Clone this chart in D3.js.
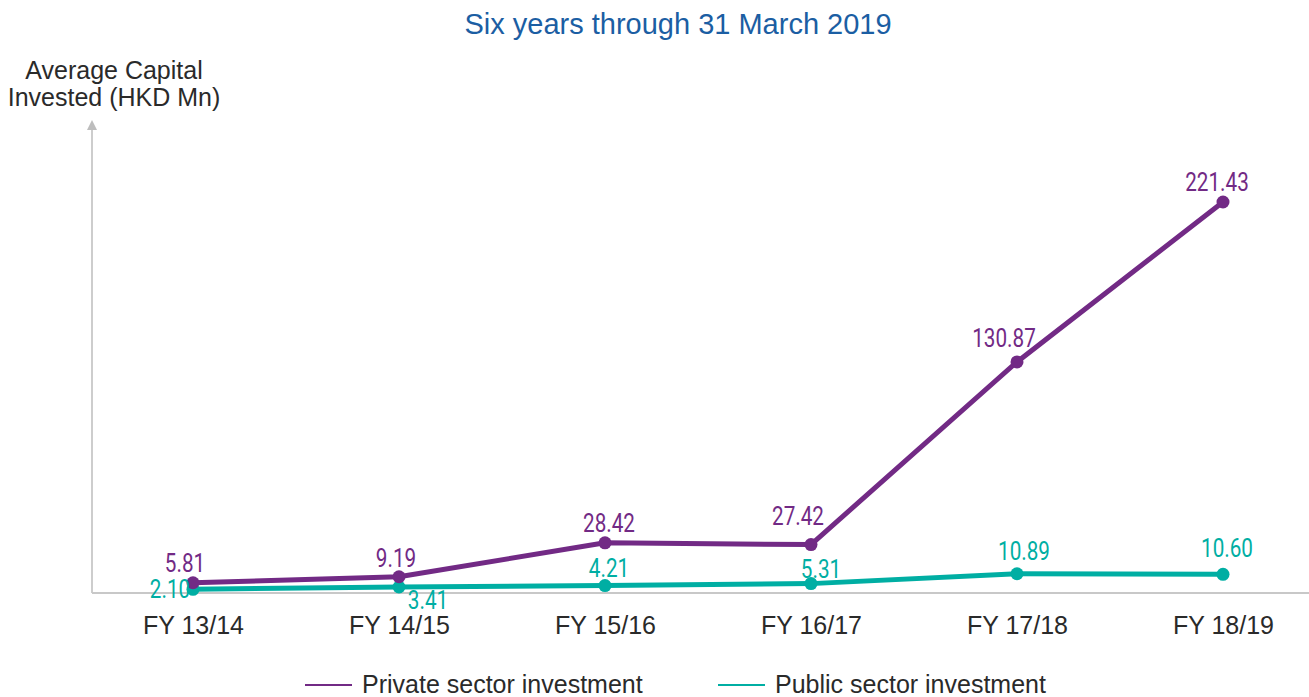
<!DOCTYPE html>
<html>
<head>
<meta charset="utf-8">
<script src="https://cdn.jsdelivr.net/npm/d3@7"></script>
<style>
  html, body { margin: 0; padding: 0; background: #fff; }
  svg { display: block; }
</style>
</head>
<body>
<svg id="chart" width="1309" height="697"></svg>
<script>
// Fiscal years and average capital invested (HKD Mn)
const years = ["FY 13/14", "FY 14/15", "FY 15/16", "FY 16/17", "FY 17/18", "FY 18/19"];
const privateValues = [5.81, 9.19, 28.42, 27.42, 130.87, 221.43];
const publicValues = [2.10, 3.41, 4.21, 5.31, 10.89, 10.60];
const seriesNames = ["Private sector investment", "Public sector investment"];
const seriesColors = ["#722a85", "#00aea3"];

// label offsets (dx, dy) of each value label's baseline centre from its point
const privateLabelOffsets = [[-8, -11], [-3, -10], [4, -11], [-13, -20], [-13, -15], [-6, -11]];
const publicLabelOffsets = [[-23, 9], [29, 22], [4, -9], [10, -6], [7, -14], [4, -17]];

const svg = d3.select("#chart");
const numFont = "Roboto, 'Liberation Sans', sans-serif";
const textFont = "'Liberation Sans', Arial, sans-serif";
const textColor = "#2a2a2a";

const x = d3.scalePoint().domain(years).range([193, 1223]);
const y = d3.scaleLinear().domain([0, 221.43]).range([593, 202]);

// y axis with arrow head
svg.append("defs").append("marker")
  .attr("id", "arrow").attr("viewBox", "0 0 10 10")
  .attr("refX", 5).attr("refY", 10)
  .attr("markerWidth", 10).attr("markerHeight", 12)
  .attr("markerUnits", "userSpaceOnUse")
  .attr("orient", "0")
  .append("path").attr("d", "M0,10 L5,0 L10,10 Z").attr("fill", "#bdbdbd");

svg.append("line")
  .attr("x1", 92).attr("x2", 92).attr("y1", y(0)).attr("y2", 130)
  .attr("stroke", "#bdbdbd").attr("stroke-width", 1.5)
  .attr("marker-end", "url(#arrow)");

// x axis
const xAxis = d3.axisBottom(x).tickSize(0).tickPadding(23);
const gx = svg.append("g").attr("transform", `translate(0,${y(0)})`).call(xAxis);
gx.select(".domain").remove();
gx.append("line").attr("x1", 92).attr("x2", 1309).attr("y1", 0).attr("y2", 0)
  .attr("stroke", "#c8c8c8").attr("stroke-width", 2);
gx.selectAll(".tick text")
  .attr("font-family", textFont).attr("font-size", 25).attr("fill", textColor)
  .attr("dy", "0.71em");

// title
svg.append("text").attr("x", 678).attr("y", 34).attr("text-anchor", "middle")
  .attr("font-family", textFont).attr("font-size", 29).attr("fill", "#1b5ea3")
  .text("Six years through 31 March 2019");

// y-axis title
svg.append("text").attr("font-family", textFont).attr("font-size", 25).attr("fill", textColor)
  .attr("text-anchor", "middle")
  .selectAll("tspan").data(["Average Capital", "Invested (HKD Mn)"]).join("tspan")
  .attr("x", 114).attr("y", (d, i) => 79 + i * 27).text(d => d);

// series lines and markers
const series = [
  { values: privateValues, color: seriesColors[0], offsets: privateLabelOffsets },
  { values: publicValues, color: seriesColors[1], offsets: publicLabelOffsets }
];
const line = d3.line().x((d, i) => x(years[i])).y(d => y(d));

series.slice().reverse().forEach(s => {
  const g = svg.append("g");
  g.append("path").attr("d", line(s.values)).attr("fill", "none")
    .attr("stroke", s.color).attr("stroke-width", 5).attr("stroke-linejoin", "round");
  g.selectAll("circle").data(s.values).join("circle")
    .attr("cx", (d, i) => x(years[i])).attr("cy", d => y(d)).attr("r", 6.5).attr("fill", s.color);
});

// value labels in a condensed style
series.forEach(s => {
  svg.append("g").selectAll("text").data(s.values).join("text")
    .attr("transform", (d, i) =>
      `translate(${x(years[i]) + s.offsets[i][0]},${y(d) + s.offsets[i][1]}) scale(0.78,1)`)
    .attr("text-anchor", "middle")
    .attr("font-family", numFont).attr("font-size", 26.5).attr("fill", s.color)
    .text(d => d.toFixed(2));
});

// legend
const legendX = [305, 718];
seriesNames.forEach((name, i) => {
  const g = svg.append("g").attr("transform", `translate(${legendX[i]},685)`);
  g.append("line").attr("x1", 0).attr("x2", 47).attr("y1", 0).attr("y2", 0)
    .attr("stroke", seriesColors[i]).attr("stroke-width", 2);
  g.append("text").attr("x", 57).attr("y", 8)
    .attr("font-family", textFont).attr("font-size", 25).attr("fill", textColor)
    .text(name);
});
</script>
</body>
</html>
